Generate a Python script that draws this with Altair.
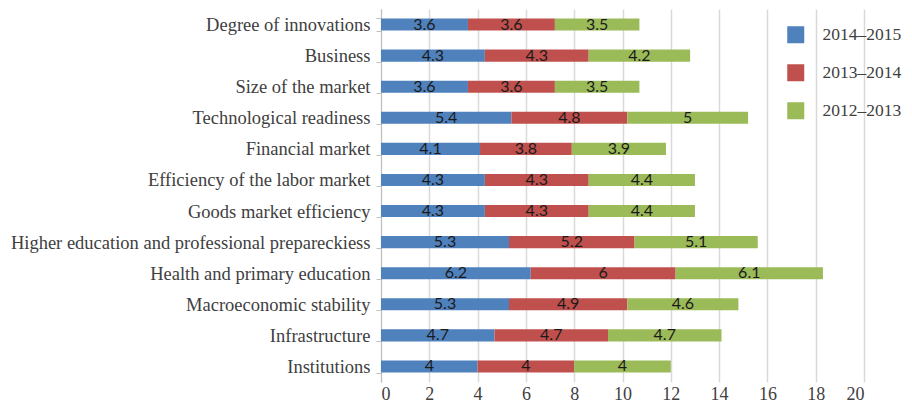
import altair as alt
import pandas as pd

categories = [
    "Degree of innovations",
    "Business",
    "Size of the market",
    "Technological readiness",
    "Financial market",
    "Efficiency of the labor market",
    "Goods market efficiency",
    "Higher education and professional prepareckiess",
    "Health and primary education",
    "Macroeconomic stability",
    "Infrastructure",
    "Institutions",
]
series = ["2014–2015", "2013–2014", "2012–2013"]
v_2014_2015 = [3.6, 4.3, 3.6, 5.4, 4.1, 4.3, 4.3, 5.3, 6.2, 5.3, 4.7, 4]
v_2013_2014 = [3.6, 4.3, 3.6, 4.8, 3.8, 4.3, 4.3, 5.2, 6, 4.9, 4.7, 4]
v_2012_2013 = [3.5, 4.2, 3.5, 5, 3.9, 4.4, 4.4, 5.1, 6.1, 4.6, 4.7, 4]
colors = ["#4F81BD", "#C0504D", "#9BBB59"]
x_ticks = [0, 2, 4, 6, 8, 10, 12, 14, 16, 18, 20]

rows = []
for s_i, (name, vals) in enumerate(zip(series, [v_2014_2015, v_2013_2014, v_2012_2013])):
    for c, v in zip(categories, vals):
        rows.append({"category": c, "series": name, "order": s_i, "value": v,
                     "label": ("%g" % v)})
df = pd.DataFrame(rows)

base = alt.Chart(df).transform_stack(
    stack="value", groupby=["category"], as_=["x0", "x1"],
    sort=[alt.SortField("order", order="ascending")]
).transform_calculate(mid="(datum.x0 + datum.x1) / 2")

yenc = alt.Y("category:N", sort=categories, title=None,
             scale=alt.Scale(paddingInner=0.61, paddingOuter=0.305),
             axis=alt.Axis(tickBand="extent", domainColor="#bfbfbf", tickColor="#bfbfbf",
                           tickSize=5, labelFont="Liberation Serif", labelFontSize=18.5,
                           labelColor="#404040", labelPadding=6, labelLimit=0, grid=False))

bars = base.mark_bar().encode(
    x=alt.X("x0:Q", title=None, scale=alt.Scale(domain=[0, 20], nice=False),
            axis=alt.Axis(values=x_ticks, domain=False, ticks=False, grid=True,
                          gridColor="#d9d9d9", gridWidth=1.5, labelFont="Liberation Serif",
                          labelFontSize=18, labelColor="#404040", labelPadding=3)),
    x2="x1:Q",
    y=yenc,
    color=alt.Color("series:N", sort=series,
                    scale=alt.Scale(domain=series, range=colors),
                    legend=alt.Legend(title=None, orient="none", legendX=406, legendY=17,
                                      symbolType="square", symbolSize=289,
                                      symbolStrokeWidth=0, labelFont="Liberation Serif",
                                      labelFontSize=17.5, labelColor="#404040",
                                      labelOffset=18, rowPadding=19, padding=0,
                                      labelLimit=0)),
)

labels = base.mark_text(font="Lato", fontSize=16, color="#1a1a1a", baseline="middle").encode(
    x="mid:Q",
    y=alt.Y("category:N", sort=categories),
    text="label:N",
)

chart = alt.layer(bars, labels).properties(
    width=483, height=373,
    padding={"left": 373, "top": 1, "right": 40, "bottom": 32},
    autosize=alt.AutoSizeParams(type="none"),
).configure_view(stroke=None)

chart.save("out.html", embed_options={"renderer": "svg", "actions": False})
